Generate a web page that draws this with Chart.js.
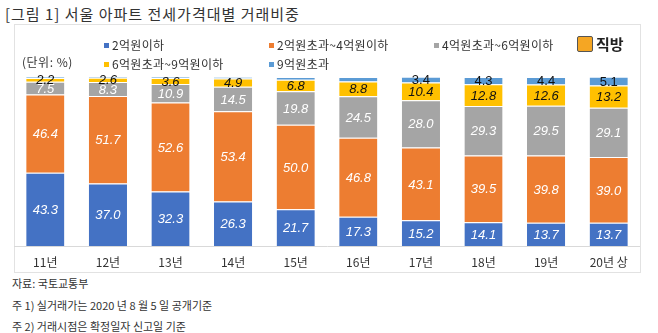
<!DOCTYPE html>
<html>
<head>
<meta charset="utf-8">
<script src="https://cdn.jsdelivr.net/npm/chart.js@4"></script>
<style>
  body { margin: 0; background: #fff; font-family: "Noto Sans CJK KR", sans-serif; color: #333; }
  #wrap { position: relative; width: 658px; height: 333px; overflow: hidden; }
  .t { position: absolute; white-space: nowrap; }
  #box { position: absolute; left: 14px; top: 24px; width: 625px; height: 247px; border: 1px solid #e2e2e2; }
  #cv { position: absolute; left: 14px; top: 24px; }
  .lg { position: absolute; font-size: 12px; white-space: nowrap; color: #333; letter-spacing: 0.3px; }
  .lg i { display: inline-block; width: 5px; height: 5px; margin-right: 3px; vertical-align: middle; position: relative; top: -1px; }
  #logo { position: absolute; left: 577px; top: 33px; font-size: 15px; font-weight: bold; color: #222; }
  #logo b { display: inline-block; width: 14px; height: 14px; background: #f5a623; border: 1px solid #555; border-radius: 2px; vertical-align: middle; margin-right: 3px; position: relative; top: -2px; }
  .note { font-size: 11px; }
</style>
</head>
<body>
<div id="wrap">
  <div class="t" style="left:5px;top:3px;font-size:15px;letter-spacing:1px;color:#333;">[그림 1] 서울 아파트 전세가격대별 거래비중</div>
  <div id="box"></div>
  <canvas id="cv" width="626" height="248"></canvas>
  <div class="t" style="left:22px;top:53px;font-size:12px;letter-spacing:0.5px;">(단위: %)</div>
  <div id="legend"></div>
  <div id="logo"><b></b>직방</div>
  <div class="t note" style="left:12px;top:275px;">자료: 국토교통부</div>
  <div class="t note" style="left:12px;top:297px;">주 1) 실거래가는 2020 년 8 월 5 일 공개기준</div>
  <div class="t note" style="left:12px;top:318px;">주 2) 거래시점은 확정일자 신고일 기준</div>
</div>
<script>
// 데이터
const years = ["11년", "12년", "13년", "14년", "15년", "16년", "17년", "18년", "19년", "20년 상"];
const seriesNames = ["2억원이하", "2억원초과~4억원이하", "4억원초과~6억원이하", "6억원초과~9억원이하", "9억원초과"];
const under2 = [43.3, 37.0, 32.3, 26.3, 21.7, 17.3, 15.2, 14.1, 13.7, 13.7];
const from2to4 = [46.4, 51.7, 52.6, 53.4, 50.0, 46.8, 43.1, 39.5, 39.8, 39.0];
const from4to6 = [7.5, 8.3, 10.9, 14.5, 19.8, 24.5, 28.0, 29.3, 29.5, 29.1];
const from6to9 = [2.2, 2.6, 3.6, 4.9, 6.8, 8.8, 10.4, 12.8, 12.6, 13.2];
const over9 = [0.6, 0.4, 0.6, 0.9, 1.7, 2.6, 3.4, 4.3, 4.4, 5.1];
// 9억원초과 라벨은 17년부터만 표시
const over9Shown = [false, false, false, false, false, false, true, true, true, true];

const colors = ["#4472C4", "#ED7D31", "#A5A5A5", "#FFC000", "#5B9BD5"];
const allData = [under2, from2to4, from4to6, from6to9, over9];

// 범례 (HTML)
const legendPos = [[104, 36], [269, 36], [434, 36], [104, 55], [269, 55]];
const legendEl = document.getElementById("legend");
seriesNames.forEach((name, i) => {
    const d = document.createElement("div");
    d.className = "lg";
    d.style.left = legendPos[i][0] + "px";
    d.style.top = legendPos[i][1] + "px";
    d.innerHTML = `<i style="background:${colors[i]}"></i>${name}`;
    legendEl.appendChild(d);
});

// 막대 안에 숫자 표시
const valueLabels = {
    id: "valueLabels",
    afterDatasetsDraw(chart) {
        const ctx = chart.ctx;
        ctx.save();
        ctx.textAlign = "center";
        ctx.textBaseline = "middle";
        chart.data.datasets.forEach((ds, di) => {
            const meta = chart.getDatasetMeta(di);
            meta.data.forEach((bar, i) => {
                if (di === 4 && !over9Shown[i]) return;
                const v = ds.data[i];
                const y = (bar.y + bar.base) / 2;
                if (di === 4) {
                    ctx.font = "13px 'Liberation Sans', Arial, sans-serif";
                    ctx.fillStyle = "#111";
                } else {
                    ctx.font = "italic 13px 'Liberation Sans', Arial, sans-serif";
                    ctx.fillStyle = di === 3 ? "#111" : "#fff";
                }
                ctx.fillText(v.toFixed(1), bar.x, y + 1);
            });
        });
        ctx.restore();
    }
};

const ctx = document.getElementById("cv").getContext("2d");
new Chart(ctx, {
    type: "bar",
    data: {
        labels: years,
        datasets: allData.map((arr, i) => ({
            label: seriesNames[i],
            data: arr,
            backgroundColor: colors[i],
            borderColor: "#ffffff",
            borderWidth: { top: 1, bottom: 0, left: 0, right: 0 },
            borderSkipped: false
        }))
    },
    options: {
        responsive: false,
        animation: false,
        layout: { padding: { top: 53, left: 0, right: 0, bottom: 0 } },
        plugins: { legend: { display: false }, tooltip: { enabled: false } },
        datasets: { bar: { barPercentage: 0.61, categoryPercentage: 1 } },
        scales: {
            x: {
                stacked: true,
                grid: { display: false },
                border: { display: true, color: "#d9d9d9" },
                ticks: { color: "#333", font: { size: 12, family: "'Noto Sans CJK KR'" }, padding: 1 },
                afterFit: (s) => { s.height = 26; }
            },
            y: {
                stacked: true,
                display: false,
                min: 0,
                max: 100
            }
        }
    },
    plugins: [valueLabels]
});
</script>
</body>
</html>
